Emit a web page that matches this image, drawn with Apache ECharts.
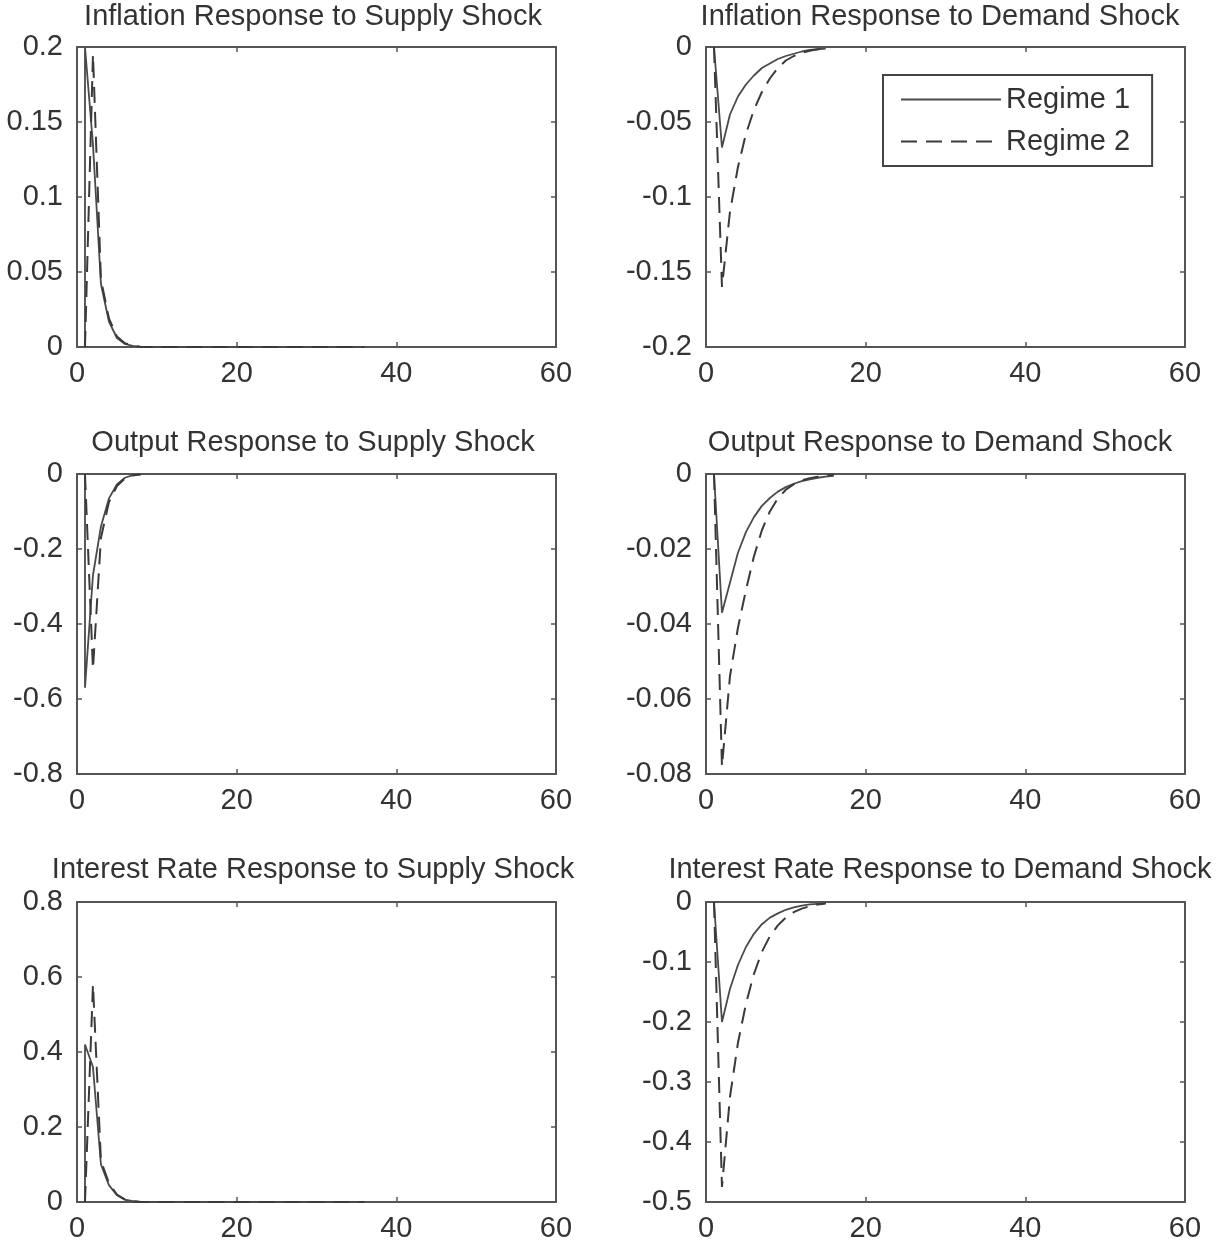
<!DOCTYPE html>
<html>
<head>
<meta charset="utf-8">
<script src="https://cdn.jsdelivr.net/npm/echarts@6/dist/echarts.min.js"></script>
<style>
html,body{margin:0;padding:0;background:#fff;}
#chart{width:1216px;height:1245px;}
</style>
</head>
<body>
<div id="chart"></div>
<script>
// ---- Tick labels ----
const xTicks = [0, 20, 40, 60];
const yTicksInflSupply = [0, 0.05, 0.1, 0.15, 0.2];
const yTicksInflDemand = [-0.2, -0.15, -0.1, -0.05, 0];
const yTicksOutSupply = [-0.8, -0.6, -0.4, -0.2, 0];
const yTicksOutDemand = [-0.08, -0.06, -0.04, -0.02, 0];
const yTicksRateSupply = [0, 0.2, 0.4, 0.6, 0.8];
const yTicksRateDemand = [-0.5, -0.4, -0.3, -0.2, -0.1, 0];

// ---- Titles ----
const titles = [
  'Inflation Response to Supply Shock', 'Inflation Response to Demand Shock',
  'Output Response to Supply Shock', 'Output Response to Demand Shock',
  'Interest Rate Response to Supply Shock', 'Interest Rate Response to Demand Shock'
];
const seriesNames = ['Regime 1', 'Regime 2'];

// ---- Periods ----
const periodsSupplyR1 = [1,1,2,3,4,5,6,7,8,9,10,11,12,13,14,15,16,17,18,19,20,21,22,23,24,25,26,27,28,29,30,31,32,33,34,35,36];
const periodsSupplyR2 = [1,2,3,4,5,6,7,8,9,10,11,12,13,14,15,16,17,18,19,20,21,22,23,24,25,26,27,28,29,30,31,32,33,34,35,36];
const periodsOutSupplyR1 = [1,1,2,3,4,5,6,7,8];
const periodsOutSupplyR2 = [1,2,3,4,5,6,7,8];
const periodsDemand = [1,2,3,4,5,6,7,8,9,10,11,12,13,14,15];
const periodsOutDemand = [1,2,3,4,5,6,7,8,9,10,11,12,13,14,15,16];

// ---- Values ----
const inflSupplyR1 = [0,0.2,0.135,0.042,0.017,0.006,0.002,0.0007,0,0,0,0,0,0,0,0,0,0,0,0,0,0,0,0,0,0,0,0,0,0,0,0,0,0,0,0,0];
const inflSupplyR2 = [0,0.195,0.045,0.019,0.007,0.0025,0.001,0,0,0,0,0,0,0,0,0,0,0,0,0,0,0,0,0,0,0,0,0,0,0,0,0,0,0,0,0];
const inflDemandR1 = [0,-0.067,-0.045,-0.033,-0.025,-0.019,-0.014,-0.011,-0.008,-0.006,-0.0045,-0.003,-0.002,-0.0015,-0.001];
const inflDemandR2 = [0,-0.16,-0.11,-0.08,-0.058,-0.042,-0.03,-0.021,-0.014,-0.009,-0.006,-0.004,-0.0025,-0.0015,-0.001];
const outSupplyR1 = [0,-0.57,-0.27,-0.14,-0.065,-0.028,-0.01,-0.003,-0.001];
const outSupplyR2 = [0,-0.52,-0.17,-0.075,-0.032,-0.012,-0.004,-0.001];
const outDemandR1 = [0,-0.037,-0.029,-0.021,-0.0155,-0.0115,-0.0085,-0.0064,-0.0047,-0.0035,-0.0026,-0.0019,-0.0014,-0.001,-0.0007,-0.0005];
const outDemandR2 = [0,-0.078,-0.054,-0.041,-0.031,-0.022,-0.015,-0.01,-0.0065,-0.0042,-0.0027,-0.0017,-0.0011,-0.0007,-0.0004,-0.0002];
const rateSupplyR1 = [0,0.42,0.36,0.1,0.045,0.018,0.006,0.002,0,0,0,0,0,0,0,0,0,0,0,0,0,0,0,0,0,0,0,0,0,0,0,0,0,0,0,0,0];
const rateSupplyR2 = [0,0.58,0.11,0.05,0.02,0.007,0.002,0,0,0,0,0,0,0,0,0,0,0,0,0,0,0,0,0,0,0,0,0,0,0,0,0,0,0,0,0];
const rateDemandR1 = [0,-0.2,-0.145,-0.105,-0.075,-0.053,-0.037,-0.026,-0.019,-0.013,-0.009,-0.006,-0.004,-0.003,-0.002];
const rateDemandR2 = [0,-0.475,-0.325,-0.235,-0.17,-0.12,-0.083,-0.057,-0.039,-0.026,-0.017,-0.011,-0.007,-0.004,-0.0025];

const zip = (xs, ys) => xs.map((x, i) => [x, ys[i]]);

const panels = [
  { yTicks: yTicksInflSupply, r1: zip(periodsSupplyR1, inflSupplyR1), r2: zip(periodsSupplyR2, inflSupplyR2) },
  { yTicks: yTicksInflDemand, r1: zip(periodsDemand, inflDemandR1), r2: zip(periodsDemand, inflDemandR2) },
  { yTicks: yTicksOutSupply, r1: zip(periodsOutSupplyR1, outSupplyR1), r2: zip(periodsOutSupplyR2, outSupplyR2) },
  { yTicks: yTicksOutDemand, r1: zip(periodsOutDemand, outDemandR1), r2: zip(periodsOutDemand, outDemandR2) },
  { yTicks: yTicksRateSupply, r1: zip(periodsSupplyR1, rateSupplyR1), r2: zip(periodsSupplyR2, rateSupplyR2) },
  { yTicks: yTicksRateDemand, r1: zip(periodsDemand, rateDemandR1), r2: zip(periodsDemand, rateDemandR2) }
];

// ---- Layout ----
const FONT = 'Liberation Sans, Arial, sans-serif';
const FS = 29;
const TXT = '#333';
const AX = '#555';
const colLeft = [77, 706];
const colTitleCenter = [313, 940];
const rowTop = [47, 474, 902];
const rowTitleY = [18, 444, 871];
const gridW = 479, gridH = 300;

const grids = [], xAxes = [], yAxes = [], series = [], titleOpts = [];
panels.forEach((p, i) => {
  const col = i % 2, row = Math.floor(i / 2);
  grids.push({ left: colLeft[col], top: rowTop[row], width: gridW, height: gridH, show: false });
  const xMin = xTicks[0], xMax = xTicks[xTicks.length - 1], xInt = xTicks[1] - xTicks[0];
  const yMin = p.yTicks[0], yMax = p.yTicks[p.yTicks.length - 1];
  const yInt = +(p.yTicks[1] - p.yTicks[0]).toFixed(6);
  const lineStyle = { color: AX, width: 2 };
  const tick = { show: true, inside: true, length: 5, lineStyle: { color: AX, width: 1.5 } };
  xAxes.push({
    type: 'value', gridIndex: i, position: 'bottom', min: xMin, max: xMax, interval: xInt,
    axisLine: { show: true, onZero: false, lineStyle }, axisTick: tick, splitLine: { show: false },
    axisLabel: { show: true, color: TXT, fontFamily: FONT, fontSize: FS, margin: 12 }
  });
  xAxes.push({
    type: 'value', gridIndex: i, position: 'top', min: xMin, max: xMax, interval: xInt,
    axisLine: { show: true, onZero: false, lineStyle }, axisTick: tick, splitLine: { show: false },
    axisLabel: { show: false }
  });
  yAxes.push({
    type: 'value', gridIndex: i, position: 'left', min: yMin, max: yMax, interval: yInt,
    axisLine: { show: true, onZero: false, lineStyle }, axisTick: tick, splitLine: { show: false },
    axisLabel: { show: true, color: TXT, fontFamily: FONT, fontSize: FS, margin: 14 }
  });
  yAxes.push({
    type: 'value', gridIndex: i, position: 'right', min: yMin, max: yMax, interval: yInt,
    axisLine: { show: true, onZero: false, lineStyle }, axisTick: tick, splitLine: { show: false },
    axisLabel: { show: false }
  });
  series.push({
    name: seriesNames[0], type: 'line', xAxisIndex: 2 * i, yAxisIndex: 2 * i,
    data: p.r1, symbol: 'none', showSymbol: false, clip: true,
    lineStyle: { color: '#4a4a4a', width: 1.8, type: 'solid' }, itemStyle: { color: '#4a4a4a' }
  });
  series.push({
    name: seriesNames[1], type: 'line', xAxisIndex: 2 * i, yAxisIndex: 2 * i,
    data: p.r2, symbol: 'none', showSymbol: false, clip: true,
    lineStyle: { color: '#3a3a3a', width: 2, type: [16, 9] }, itemStyle: { color: '#3a3a3a' }
  });
  titleOpts.push({
    text: titles[i], left: colTitleCenter[col], top: rowTitleY[row] - 16, textAlign: 'center', padding: 0,
    textStyle: { color: TXT, fontFamily: FONT, fontSize: FS, fontWeight: 'normal' }
  });
});

const chart = echarts.init(document.getElementById('chart'), null, { renderer: 'canvas' });
chart.setOption({
  backgroundColor: '#fff',
  animation: false,
  title: titleOpts,
  grid: grids,
  xAxis: xAxes,
  yAxis: yAxes,
  legend: {
    data: seriesNames, orient: 'vertical', left: 883, top: 75,
    padding: [10, 22, 10, 17], itemGap: 13, itemWidth: 100, itemHeight: 20,
    borderColor: '#444', borderWidth: 2, backgroundColor: '#fff',
    itemStyle: { opacity: 0 },
    textStyle: { color: TXT, fontFamily: FONT, fontSize: FS }
  },
  series: series
});
</script>
</body>
</html>
